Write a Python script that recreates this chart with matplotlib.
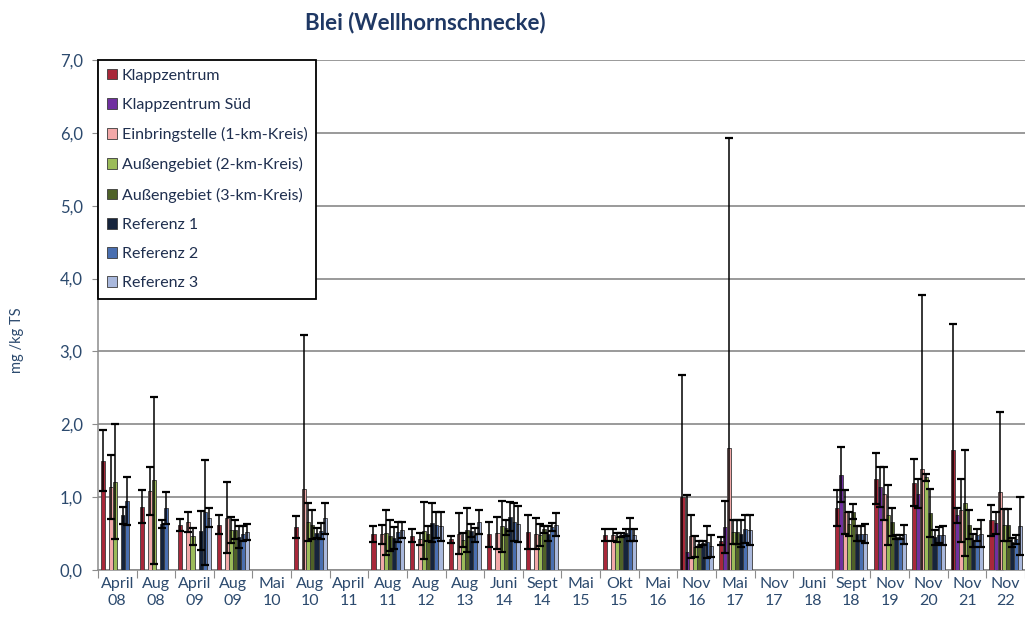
import numpy as np
import matplotlib
matplotlib.use("Agg")
import matplotlib.pyplot as plt
from matplotlib.patches import Patch

plt.rcParams['font.family'] = ['Lato', 'DejaVu Sans']

# ---------------------------- data ----------------------------
nan = np.nan
categories = ["April\n08", "Aug\n08", "April\n09", "Aug\n09", "Mai\n10", "Aug\n10",
              "April\n11", "Aug\n11", "Aug\n12", "Aug\n13", "Juni\n14", "Sept\n14",
              "Mai\n15", "Okt\n15", "Mai\n16", "Nov\n16", "Mai\n17", "Nov\n17",
              "Juni\n18", "Sept\n18", "Nov\n19", "Nov\n20", "Nov\n21", "Nov\n22"]

series_names = ["Klappzentrum", "Klappzentrum Süd", "Einbringstelle (1-km-Kreis)",
                "Außengebiet (2-km-Kreis)", "Außengebiet (3-km-Kreis)",
                "Referenz 1", "Referenz 2", "Referenz 3"]

klapp =     [1.50, 0.87, 0.62, 0.62, nan, 0.59, nan, 0.49, 0.47, 0.42, 0.49, 0.52,
             nan, 0.48, nan, 1.00, 0.40, nan, nan, 0.85, 1.25, 1.20, 1.65, 0.68]
klapp_err = [0.42, 0.23, 0.08, 0.13, nan, 0.15, nan, 0.11, 0.09, 0.05, 0.17, 0.23,
             nan, 0.08, nan, 1.67, 0.05, nan, nan, 0.25, 0.35, 0.32, 1.72, 0.21]

sued =      [nan, nan, nan, nan, nan, nan, nan, nan, nan, nan, nan, nan,
             nan, nan, nan, 0.25, 0.59, nan, nan, 1.31, 1.14, 1.05, 0.75, 0.64]
sued_err =  [nan, nan, nan, nan, nan, nan, nan, nan, nan, nan, nan, nan,
             nan, nan, nan, 0.78, 0.36, nan, nan, 0.38, 0.28, 0.20, 0.10, 0.15]

einbr =     [1.14, 1.09, 0.66, 0.72, nan, 1.11, nan, 0.49, 0.43, 0.50, 0.51, 0.50,
             nan, 0.48, nan, 0.46, 1.67, nan, nan, 0.80, 1.05, 1.38, 0.82, 1.07]
einbr_err = [0.44, 0.33, 0.14, 0.49, nan, 2.11, nan, 0.13, 0.08, 0.28, 0.22, 0.21,
             nan, 0.08, nan, 0.29, 4.26, nan, nan, 0.30, 0.37, 2.40, 0.43, 1.10]

km2 =       [1.21, 1.23, 0.46, 0.55, nan, 0.66, nan, 0.51, 0.54, 0.41, 0.60, 0.48,
             nan, 0.45, nan, 0.32, 0.52, nan, nan, 0.63, 0.75, 1.27, 0.92, 0.62]
km2_err =   [0.79, 1.15, 0.11, 0.18, nan, 0.26, nan, 0.31, 0.39, 0.10, 0.35, 0.15,
             nan, 0.06, nan, 0.14, 0.16, nan, nan, 0.17, 0.41, 0.05, 0.73, 0.22]

km3 =       [nan, nan, nan, 0.55, nan, 0.62, nan, 0.47, 0.50, 0.55, 0.58, 0.56,
             nan, 0.48, nan, 0.36, 0.52, nan, nan, 0.80, 0.66, 0.78, 0.62, 0.62]
km3_err =   [nan, nan, nan, 0.13, nan, 0.20, nan, 0.21, 0.10, 0.30, 0.10, 0.05,
             nan, 0.03, nan, 0.04, 0.16, nan, nan, 0.10, 0.19, 0.33, 0.20, 0.22]

ref1 =      [0.75, 0.63, 0.54, 0.45, nan, 0.51, nan, 0.44, 0.65, 0.54, 0.73, 0.50,
             nan, 0.51, nan, 0.37, 0.50, nan, nan, 0.50, 0.45, 0.45, 0.41, 0.38]
ref1_err =  [0.12, 0.05, 0.27, 0.15, nan, 0.07, nan, 0.15, 0.27, 0.09, 0.20, 0.10,
             nan, 0.05, nan, 0.03, 0.18, nan, nan, 0.10, 0.03, 0.10, 0.09, 0.06]

ref2 =      [0.95, 0.85, 0.79, 0.50, nan, 0.54, nan, 0.52, 0.62, 0.48, 0.66, 0.59,
             nan, 0.56, nan, 0.39, 0.56, nan, nan, 0.50, 0.45, 0.48, 0.48, 0.42]
ref2_err =  [0.33, 0.22, 0.72, 0.10, nan, 0.11, nan, 0.14, 0.18, 0.10, 0.26, 0.05,
             nan, 0.16, nan, 0.22, 0.19, nan, nan, 0.10, 0.03, 0.11, 0.08, 0.06]

ref3 =      [nan, nan, 0.72, 0.52, nan, 0.71, nan, 0.55, 0.60, 0.66, 0.63, 0.62,
             nan, 0.48, nan, 0.33, 0.55, nan, nan, 0.50, 0.49, 0.48, 0.50, 0.60]
ref3_err =  [nan, nan, 0.13, 0.11, nan, 0.21, nan, 0.11, 0.20, 0.17, 0.25, 0.16,
             nan, 0.08, nan, 0.15, 0.20, nan, nan, 0.13, 0.13, 0.13, 0.18, 0.40]

values = [klapp, sued, einbr, km2, km3, ref1, ref2, ref3]
errors = [klapp_err, sued_err, einbr_err, km2_err, km3_err, ref1_err, ref2_err, ref3_err]
colors = ["#A8283A", "#7030A0", "#F2A8A8", "#9BBB59", "#4F6228",
          "#16243C", "#4A6FB0", "#A9B8DC"]

text_col = "#2C4A6E"

# ---------------------------- plot ----------------------------
fig = plt.figure(figsize=(10.25, 6.21), dpi=100)
ax = fig.add_axes([0.0956, 0.0821, 0.9044, 0.8213])

x = np.arange(len(categories))
w = 0.105
for k, (vals, errs, col) in enumerate(zip(values, errors, colors)):
    xs = x - 4 * w + (k + 0.5) * w
    ax.bar(xs, vals, width=w, color=col, edgecolor="#3A3A3A", linewidth=0.6, zorder=3)
    ax.errorbar(xs, vals, yerr=errs, fmt="none", ecolor="black", elinewidth=1.1,
                capsize=3, capthick=1.6, zorder=4)

ax.set_xlim(-0.5, len(categories) - 0.5)
ax.set_ylim(0, 7)
ax.set_yticks(np.arange(0, 7.1, 1.0))
ax.set_yticklabels([f"{v:.1f}".replace(".", ",") for v in np.arange(0, 7.1, 1.0)],
                   fontsize=12, color=text_col)
ax.yaxis.grid(True, color="#7F7F7F", linewidth=1.1, zorder=0)
ax.set_axisbelow(True)

# ticks between the groups, labels at the group centres
ax.set_xticks(np.arange(-0.5, len(categories), 1.0))
ax.set_xticklabels([])
ax.set_xticks(x, minor=True)
ax.set_xticklabels(categories, minor=True, fontsize=11.5, color=text_col, linespacing=1.25)
ax.tick_params(axis="x", which="major", length=6, color="#8C8C8C")
ax.tick_params(axis="x", which="minor", length=0, pad=5)
ax.tick_params(axis="y", length=4, color="#8C8C8C", pad=7)

for s in ["top", "right"]:
    ax.spines[s].set_visible(False)
for s in ["left", "bottom"]:
    ax.spines[s].set_color("#8C8C8C")
    ax.spines[s].set_linewidth(1.1)

ax.set_ylabel("mg /kg TS", fontsize=10.5, color=text_col)
ax.yaxis.set_label_coords(-0.08, 0.45)

fig.text(0.415, 0.963, "Blei (Wellhornschnecke)", ha="center", va="center",
         fontsize=16, fontweight="bold", color="#1F3864")

handles = [Patch(facecolor=c, edgecolor="#3A3A3A", linewidth=0.6) for c in colors]
leg = ax.legend(handles, series_names, loc="upper left", bbox_to_anchor=(0, 1),
                borderaxespad=0, fancybox=False, framealpha=1, edgecolor="black",
                fontsize=11.5, handlelength=0.65, handleheight=0.65, handletextpad=0.3,
                labelspacing=0.95, borderpad=0.55, labelcolor="#1F2F4F")
leg.get_frame().set_linewidth(1.3)
leg.set_zorder(5)

fig.savefig("out.png", dpi=100)
